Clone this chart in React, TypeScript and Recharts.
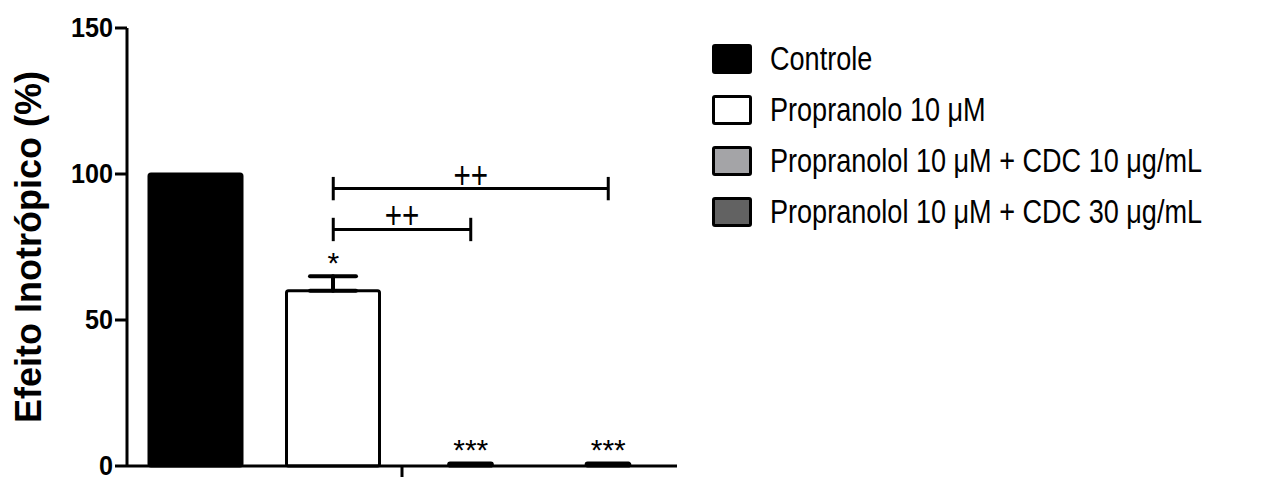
import React from 'react';
import {
  BarChart, Bar, XAxis, YAxis, Legend, ErrorBar, ReferenceLine, ReferenceDot, Rectangle,
} from 'recharts';

// groups, in plot order (also the legend labels)
const GROUPS = [
  'Controle',
  'Propranolo 10 μM',
  'Propranolol 10 μM + CDC 10 μg/mL',
  'Propranolol 10 μM + CDC 30 μg/mL',
];
const MEANS = [100, 60, 1, 1];
const SEM_UP = [null, 5, null, null];
const STARS = ['', '*', '***', '***'];
const Y_TICKS = [0, 50, 100, 150];

// "++" comparisons against Propranolol alone
const BRACKET_FROM = [GROUPS[1], GROUPS[1]];
const BRACKET_TO = [GROUPS[3], GROUPS[2]];
const BRACKET_Y = [95, 81];
const BRACKET_TEXT = ['++', '++'];

const FILLS = ['#000000', '#ffffff', '#a4a4a7', '#626262'];
const WIDTH_FACTOR = [1, 1, 0.47, 0.47];

// no narrow font installed, so squeeze Liberation Sans horizontally
const FONT = '"Liberation Sans", Arial, sans-serif';
const SQUEEZE = 0.82;

const data = GROUPS.map((name, i) => ({
  name,
  mean: MEANS[i],
  err: SEM_UP[i] == null ? null : [0, SEM_UP[i]],
}));

// a plain 0..n-1 axis under the bars, used only for its line and the single centre tick
const LAST = GROUPS.length - 1;

const BarShape = (p: any) => {
  const f = WIDTH_FACTOR[p.index] ?? 1;
  const w = p.width * f;
  return (
    <Rectangle
      x={p.x + (p.width - w) / 2}
      y={p.y}
      width={w}
      height={p.height}
      fill={FILLS[p.index]}
      stroke="#000"
      strokeWidth={3}
      strokeLinejoin="round"
      radius={2}
    />
  );
};

const YTick = ({ x, y, payload }: any) => (
  <text
    transform={`translate(${x}, ${y}) scale(0.9, 1)`}
    textAnchor="end"
    dominantBaseline="central"
    fontFamily={FONT}
    fontWeight="bold"
    fontSize={28}
    fill="#000"
  >
    {payload.value}
  </text>
);

const textAbove = (text: string, size: number, squeeze: number, gap: number) => ({ viewBox }: any) => {
  const cx = viewBox.x + viewBox.width / 2;
  const cy = viewBox.y - gap;
  return (
    <text
      transform={`translate(${cx}, ${cy}) scale(${squeeze}, 1)`}
      textAnchor="middle"
      fontFamily={FONT}
      fontSize={size}
      fill="#000"
    >
      {text}
    </text>
  );
};

const LegendBox = () => (
  <div style={{ fontFamily: FONT, fontSize: 33, color: '#000' }}>
    {GROUPS.map((g, i) => (
      <div key={g} style={{ display: 'flex', alignItems: 'center', height: 51 }}>
        <div style={{
          width: 34, height: 24, background: FILLS[i], border: '3px solid #000',
          borderRadius: 3, marginRight: 18, flexShrink: 0,
        }} />
        <span style={{
          whiteSpace: 'nowrap', display: 'inline-block',
          transform: `scaleX(${SQUEEZE})`, transformOrigin: 'left center',
        }}>{g}</span>
      </div>
    ))}
  </div>
);

export default function App() {
  return (
    <BarChart
      width={1257}
      height={469}
      data={data}
      margin={{ top: 20, right: 588, left: 0, bottom: 0 }}
      barSize={93}
    >
      <XAxis dataKey="name" type="category" hide height={0} />
      <XAxis
        xAxisId="mid"
        type="number"
        domain={[0, LAST]}
        allowDataOverflow
        ticks={[LAST / 2]}
        tick={() => null}
        height={11}
        tickSize={12}
        axisLine={{ stroke: '#000', strokeWidth: 3 }}
        tickLine={{ stroke: '#000', strokeWidth: 3 }}
      />
      <YAxis
        type="number"
        domain={[0, 150]}
        ticks={Y_TICKS}
        interval={0}
        width={119}
        tickSize={12}
        tickMargin={2}
        axisLine={{ stroke: '#000', strokeWidth: 3 }}
        tickLine={{ stroke: '#000', strokeWidth: 3 }}
        tick={<YTick />}
        label={{
          content: ({ viewBox }: any) => {
            const cx = 20;
            const cy = viewBox.y + viewBox.height / 2;
            return (
              <text
                x={cx}
                y={cy}
                transform={`rotate(-90, ${cx}, ${cy})`}
                textAnchor="middle"
                dominantBaseline="central"
                fontFamily={FONT}
                fontWeight="bold"
                fontSize={36}
                fill="#000"
              >
                Efeito Inotrópico (%)
              </text>
            );
          },
        }}
      />
      <Legend
        layout="vertical"
        align="center"
        verticalAlign="middle"
        wrapperStyle={{ left: 704, top: 25, width: 560 }}
        content={() => <LegendBox />}
      />
      <Bar dataKey="mean" isAnimationActive={false} shape={BarShape}>
        <ErrorBar
          dataKey="err"
          width={23}
          stroke="#000"
          strokeWidth={4}
          strokeLinecap="round"
          isAnimationActive={false}
        />
      </Bar>
      {BRACKET_Y.map((y, i) => (
        <ReferenceLine
          key={`b${i}`}
          segment={[{ x: BRACKET_FROM[i], y }, { x: BRACKET_TO[i], y }]}
          stroke="#000"
          strokeWidth={3}
          label={{ content: textAbove(BRACKET_TEXT[i], 38, 0.78, 1) }}
        />
      ))}
      {BRACKET_Y.flatMap((y, i) => [BRACKET_FROM[i], BRACKET_TO[i]].map((x, j) => (
        <ReferenceLine
          key={`t${i}${j}`}
          segment={[{ x, y: y - 4 }, { x, y: y + 4 }]}
          stroke="#000"
          strokeWidth={3}
        />
      )))}
      {GROUPS.map((g, i) => (STARS[i] ? (
        <ReferenceDot
          key={`s${i}`}
          x={g}
          y={MEANS[i] + (SEM_UP[i] ?? 0)}
          r={0}
          fill="none"
          stroke="none"
          label={{ content: textAbove(STARS[i], 30, 1, 3) }}
        />
      ) : null))}
    </BarChart>
  );
}
